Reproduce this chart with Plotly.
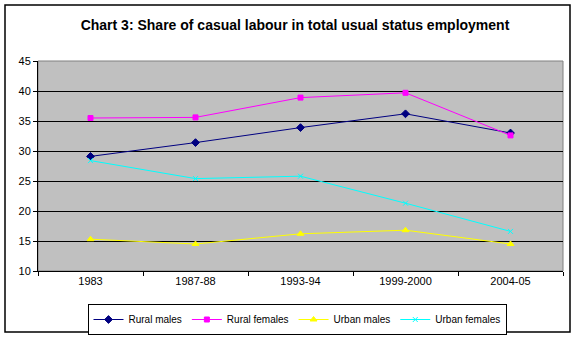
import plotly.graph_objects as go

# Survey rounds and share of casual labour (%) in usual status employment
rounds = ["1983", "1987-88", "1993-94", "1999-2000", "2004-05"]
rural_males = [29.1, 31.4, 33.9, 36.2, 33.0]
rural_females = [35.5, 35.6, 38.9, 39.7, 32.6]
urban_males = [15.3, 14.5, 16.2, 16.8, 14.5]
urban_females = [28.4, 25.4, 25.8, 21.3, 16.6]
y_ticks = [10, 15, 20, 25, 30, 35, 40, 45]

W, H = 575, 337
L, R, T, B = 38, 12, 61, 66
pw, ph = W - L - R, H - T - B


def px_x(px):
    return (px - L) / pw


def px_y(py):
    return (H - B - py) / ph


FONT = "Liberation Sans, Arial, sans-serif"

series = [
    ("Rural males", rural_males, "#000080", "diamond", 6),
    ("Rural females", rural_females, "#FF00FF", "square", 5),
    ("Urban males", urban_males, "#FFFF00", "triangle-up", 6),
    ("Urban females", urban_females, "#00FFFF", "x-thin", 5),
]

fig = go.Figure()
for name, vals, color, sym, size in series:
    fig.add_trace(go.Scatter(
        x=rounds, y=vals, name=name, mode="lines+markers",
        line=dict(color=color, width=1),
        marker=dict(symbol=sym, size=size, color=color,
                    line=dict(color=color, width=1)),
    ))

fig.update_layout(
    width=W, height=H,
    margin=dict(l=L, r=R, t=T, b=B, autoexpand=False),
    paper_bgcolor="white",
    plot_bgcolor="#C0C0C0",
    font=dict(family=FONT, size=11, color="black"),
    title=dict(
        text="<b>Chart 3: Share of casual labour in total usual status employment</b>",
        x=px_x(295), xref="paper", xanchor="center",
        y=1 - 25 / H, yanchor="middle",
        font=dict(family=FONT, size=14, color="black"),
    ),
    showlegend=True,
    legend=dict(
        orientation="h",
        x=px_x(297), xanchor="center",
        y=px_y(304), yanchor="top",
        bordercolor="black", borderwidth=1,
        bgcolor="white",
        font=dict(family=FONT, size=10, color="black"),
        itemwidth=30,
        tracegroupgap=0,
    ),
    xaxis=dict(
        type="category",
        showgrid=False,
        showline=True, linecolor="black", linewidth=1,
        ticks="outside", tickson="boundaries", ticklen=4,
        tickcolor="black", tickfont=dict(size=11),
        range=[-0.5, 4.5],
    ),
    yaxis=dict(
        range=[10, 45],
        tickvals=y_ticks,
        showgrid=True, gridcolor="black", gridwidth=1,
        showline=True, linecolor="black", linewidth=1,
        ticks="outside", ticklen=4, tickcolor="black",
        tickfont=dict(size=11),
        zeroline=False,
    ),
    shapes=[
        # gray frame of the plot area
        dict(type="rect", xref="paper", yref="paper", x0=0, x1=1, y0=0, y1=1,
             line=dict(color="#808080", width=1), layer="below"),
        # outer chart border
        dict(type="rect", xref="paper", yref="paper",
             x0=px_x(5), x1=px_x(570), y0=px_y(332), y1=px_y(5),
             line=dict(color="black", width=1.5)),
    ],
)

fig.write_html("out.html")
